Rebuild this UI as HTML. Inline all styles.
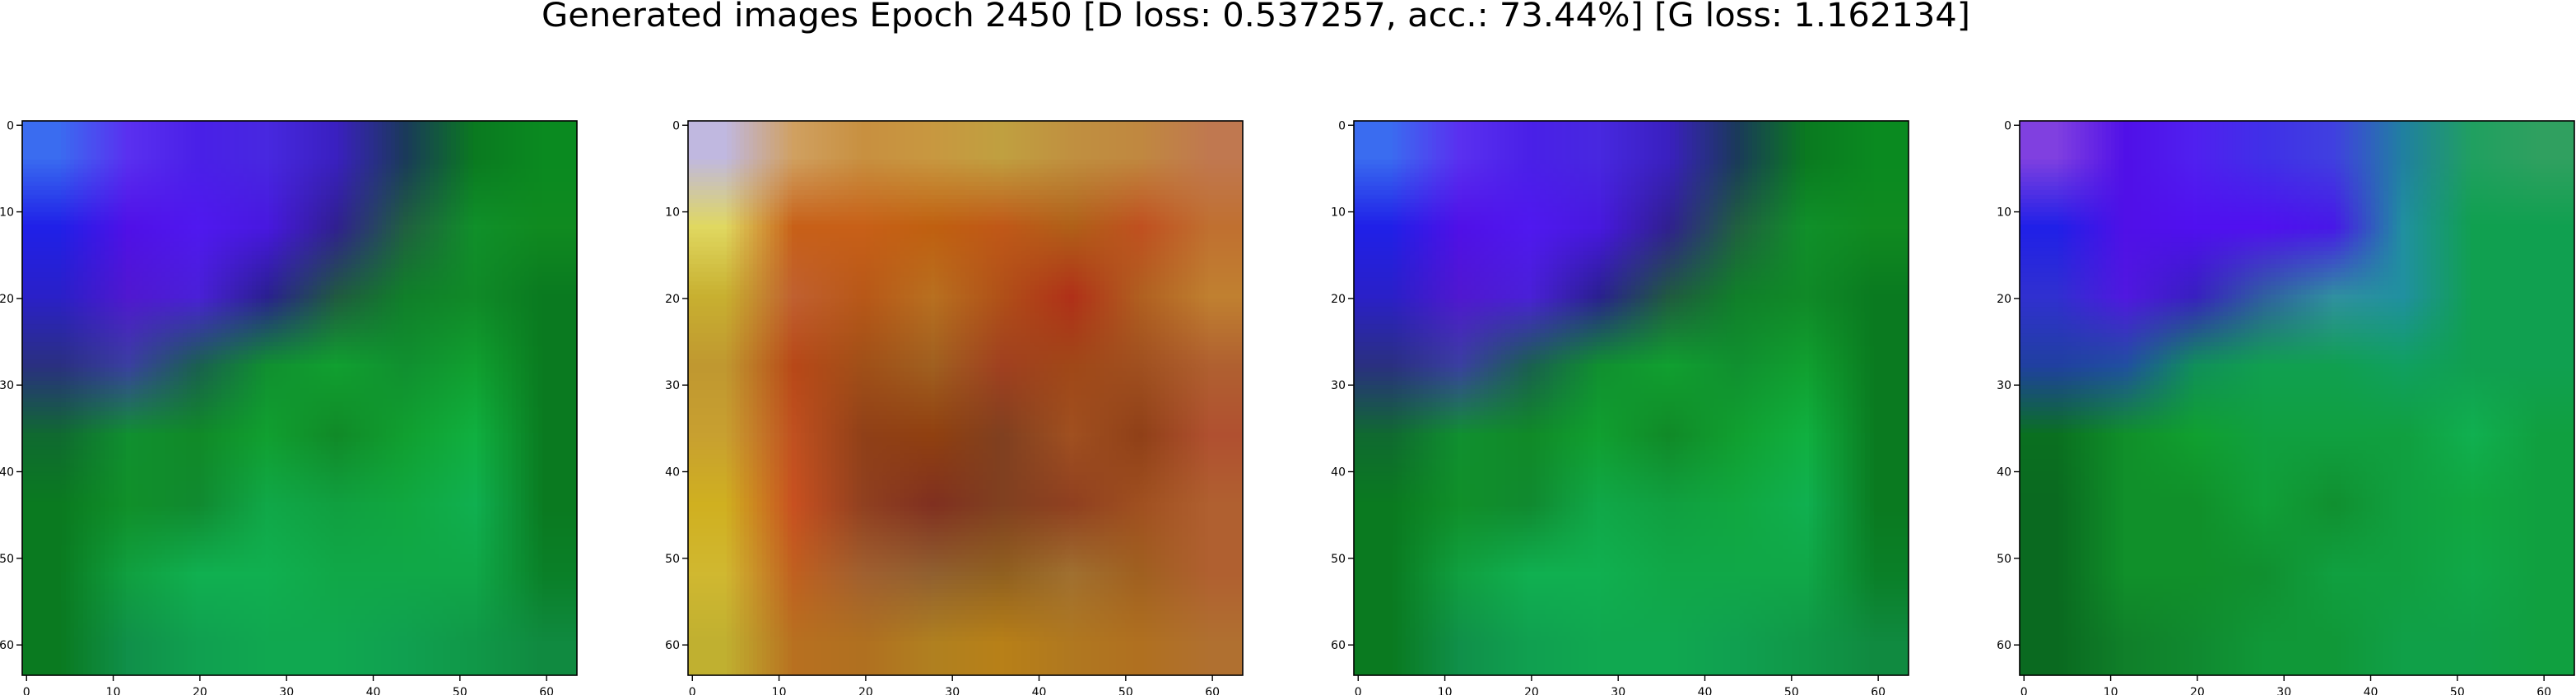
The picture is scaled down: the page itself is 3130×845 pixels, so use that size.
<!DOCTYPE html>
<html><head><meta charset="utf-8"><style>
html,body{margin:0;padding:0;background:#fff;width:3130px;height:845px;overflow:hidden}
#fig{position:relative;width:3130px;height:845px}
canvas{position:absolute;image-rendering:auto}
svg{position:absolute;left:0;top:0}
text{font-family:"DejaVu Sans","Liberation Sans",sans-serif}
</style></head><body>
<div id="fig">
<svg id="svg" width="3130" height="845">
<text x="1526" y="32" font-size="40" text-anchor="middle" textLength="1736" lengthAdjust="spacingAndGlyphs">Generated images Epoch 2450 [D loss: 0.537257, acc.: 73.44%] [G loss: 1.162134]</text>
</svg>
</div>
<script>
const tickValues = [0,10,20,30,40,50,60];
const tickLabels = ["0","10","20","30","40","50","60"];
const imageSize = 64;
const panel1Grid = [
["#3a6cf0","#5a30f0","#4a20e8","#4828e0","#3a20c0","#1a3a5a","#0a7a20","#0a8a20"],
["#2020e8","#5010e8","#5018f0","#4818e0","#302090","#206040","#10902a","#108a20"],
["#2a20c8","#5018d0","#4a20d8","#2a2090","#205a40","#10802a","#108a28","#0a7a20"],
["#2a3080","#3a40a0","#1a6050","#109030","#10a030","#109030","#10a030","#0a7a20"],
["#106a30","#109030","#108a28","#10a030","#108a28","#10a030","#10b040","#0a7a20"],
["#0a7a20","#10902a","#108a30","#10a848","#10a040","#10a840","#10b050","#0a7a20"],
["#0a7a20","#10a040","#10b050","#10b050","#10a848","#10a848","#10a848","#0a8028"],
["#0a7a20","#10904a","#10a050","#10a850","#10a850","#10a050","#109848","#108a40"]];
const panel2Grid = [
["#c0b8e0","#d0a060","#c89040","#c89840","#c0a040","#c09040","#c08840","#c07850"],
["#e0d860","#c86018","#c86018","#c06010","#c05818","#b06018","#c05020","#c07030"],
["#c8b030","#c06030","#b85818","#b87020","#b05018","#b03018","#b06020","#c08030"],
["#c09830","#b84818","#a05018","#a06020","#a04020","#a04818","#a05020","#b06030"],
["#c8a030","#c05020","#904018","#904010","#804020","#a05020","#904018","#b05030"],
["#d0b020","#c85020","#904020","#803020","#804020","#904020","#a05020","#b06030"],
["#d0b830","#c06020","#a06030","#906030","#906020","#a07030","#a06020","#b06030"],
["#c0b030","#b87020","#b07020","#b08020","#b88018","#b07820","#b07020","#b07030"]];
const panel3Grid = panel1Grid;
const panel4Grid = [
["#8040e0","#5010e8","#5020f0","#4030e8","#4040e0","#2080a0","#20a060","#30a060"],
["#2020e8","#5010e8","#5010f0","#5010f0","#4818e8","#2090a0","#10a050","#10a050"],
["#3030d0","#5018e0","#3820c0","#3060a0","#3090a0","#2090a0","#10a050","#10a050"],
["#2040a0","#2050a0","#10905a","#10a050","#10a050","#10a060","#10a050","#10a050"],
["#0a7020","#10902a","#10a030","#10a040","#10a040","#10a040","#10b050","#10a040"],
["#0a6a20","#10902a","#10902a","#10a038","#109030","#10a040","#10a840","#10a040"],
["#0a6a20","#10902a","#10902a","#109030","#10a040","#10a040","#10a848","#10a040"],
["#0a6a20","#10802a","#108a30","#109838","#109838","#10a048","#10a048","#10a040"]];
const grids = [panel1Grid, panel2Grid, panel3Grid, panel4Grid];

const NS = "http://www.w3.org/2000/svg";
const svg = document.getElementById('svg');
const fig = document.getElementById('fig');
const lefts = [27, 836, 1645, 2454];
const top0 = 147, side = 674;
function hex(c){return [parseInt(c.substr(1,2),16),parseInt(c.substr(3,2),16),parseInt(c.substr(5,2),16)];}

grids.forEach((g, i) => {
  const L = lefts[i];
  const xs = v => L + (v + 0.5) * side / imageSize;
  const ys = v => top0 + (v + 0.5) * side / imageSize;
  // image
  const small = document.createElement('canvas');
  small.width = g[0].length; small.height = g.length;
  const sc = small.getContext('2d');
  const id = sc.createImageData(small.width, small.height);
  g.forEach((row, r) => row.forEach((c, k) => {
    const [R,G,B] = hex(c); const o = (r*small.width + k)*4;
    id.data[o]=R; id.data[o+1]=G; id.data[o+2]=B; id.data[o+3]=255;
  }));
  sc.putImageData(id, 0, 0);
  const cv = document.createElement('canvas');
  cv.width = side; cv.height = side;
  cv.style.left = L + 'px'; cv.style.top = top0 + 'px';
  
  
  const ctx = cv.getContext('2d');
  ctx.imageSmoothingEnabled = true;
  ctx.drawImage(small, 0, 0, side, side);
  fig.insertBefore(cv, svg);
  // frame
  const fr = document.createElementNS(NS, 'rect');
  fr.setAttribute('x', L); fr.setAttribute('y', top0);
  fr.setAttribute('width', side); fr.setAttribute('height', side);
  fr.setAttribute('fill', 'none'); fr.setAttribute('stroke', '#000'); fr.setAttribute('stroke-width', '1.6');
  
  
  svg.appendChild(fr);
  tickValues.forEach((v, t) => {
    const x = xs(v), y = ys(v);
    const tx = document.createElementNS(NS, 'line');
    tx.setAttribute('x1', x); tx.setAttribute('x2', x);
    tx.setAttribute('y1', top0 + side); tx.setAttribute('y2', top0 + side + 7);
    tx.setAttribute('stroke', '#000'); tx.setAttribute('stroke-width', '1.4');
    
    
    svg.appendChild(tx);
    const lx = document.createElementNS(NS, 'text');
    lx.setAttribute('x', x); lx.setAttribute('y', top0 + side + 25);
    lx.setAttribute('font-size', '14'); lx.setAttribute('text-anchor', 'middle');
    lx.textContent = tickLabels[t];
    
    
    svg.appendChild(lx);
    const ty = document.createElementNS(NS, 'line');
    ty.setAttribute('x1', L - 7); ty.setAttribute('x2', L);
    ty.setAttribute('y1', y); ty.setAttribute('y2', y);
    ty.setAttribute('stroke', '#000'); ty.setAttribute('stroke-width', '1.4');
    
    
    svg.appendChild(ty);
    const ly = document.createElementNS(NS, 'text');
    ly.setAttribute('x', L - 10); ly.setAttribute('y', y + 5);
    ly.setAttribute('font-size', '14'); ly.setAttribute('text-anchor', 'end');
    ly.textContent = tickLabels[t];
    
    
    svg.appendChild(ly);
  });
});
</script>
</body></html>
